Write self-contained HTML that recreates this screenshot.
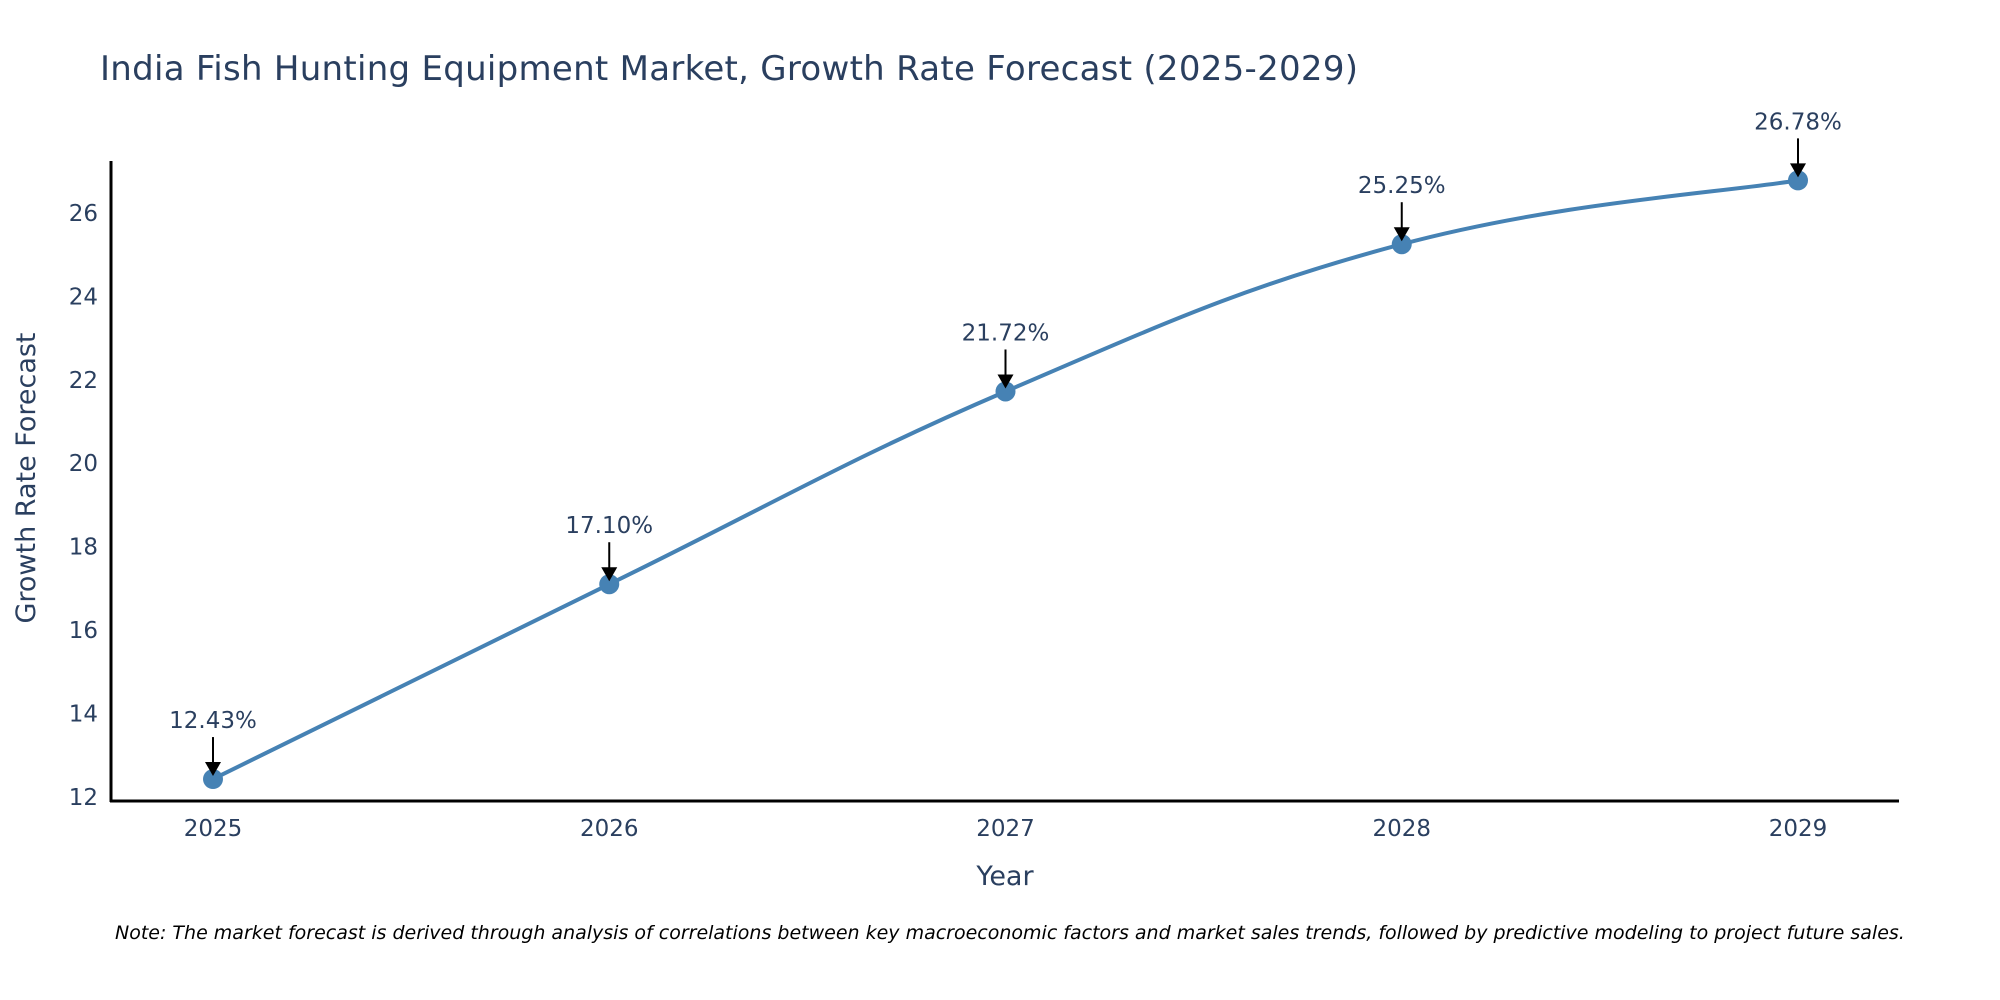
<!DOCTYPE html>
<html><head><meta charset="utf-8"><style>
body{margin:0;background:#fff;}
svg{display:block;font-family:"DejaVu Sans","Liberation Sans",sans-serif;}
</style></head><body>
<svg id="chart" width="2000" height="1000">
<text x="100" y="80" font-size="34" fill="#2a3f5f" textLength="1258">India Fish Hunting Equipment Market, Growth Rate Forecast (2025-2029)</text>
<g id="yticks"></g>
<g id="xticks"></g>
<line x1="111" y1="161" x2="111" y2="802" stroke="#000" stroke-width="3"/>
<line x1="110" y1="801" x2="1899" y2="801" stroke="#000" stroke-width="3"/>
<path id="line" fill="none" stroke="#4682b4" stroke-width="4"/>
<g id="points"></g>
<g id="annots"></g>
<text x="1005" y="885" font-size="27" fill="#2a3f5f" text-anchor="middle">Year</text>
<text transform="translate(35,478) rotate(-90)" font-size="27" fill="#2a3f5f" text-anchor="middle">Growth Rate Forecast</text>
<text x="115" y="939" font-size="19" font-style="italic" fill="#000">Note: The market forecast is derived through analysis of correlations between key macroeconomic factors and market sales trends, followed by predictive modeling to project future sales.</text>
</svg>
<script>
const years=[2025,2026,2027,2028,2029];
const rates=[12.43,17.10,21.72,25.25,26.78];
const labels=["12.43%","17.10%","21.72%","25.25%","26.78%"];
const yTicks=[12,14,16,18,20,22,24,26];
const NS="http://www.w3.org/2000/svg";
const X=v=>213+(v-2025)*396.25;
const Y=v=>797-(v-12)*41.72;
function mk(tag,attrs,parent){const e=document.createElementNS(NS,tag);for(const k in attrs)e.setAttribute(k,attrs[k]);parent.appendChild(e);return e;}
const yt=document.getElementById('yticks');
yTicks.forEach(t=>{const e=mk('text',{x:98,y:Y(t)+8,'font-size':23,fill:'#2a3f5f','text-anchor':'end'},yt);e.textContent=t;

});
const xt=document.getElementById('xticks');
years.forEach(t=>{const e=mk('text',{x:X(t),y:836,'font-size':23,fill:'#2a3f5f','text-anchor':'middle'},xt);e.textContent=t;

});
const pts=years.map((y,i)=>[X(y),Y(rates[i])]);
let d=`M${pts[0][0]},${pts[0][1]}`;
const k=0.2;
for(let i=0;i<pts.length-1;i++){const p0=pts[Math.max(0,i-1)],p1=pts[i],p2=pts[i+1],p3=pts[Math.min(pts.length-1,i+2)];
const c1=[p1[0]+(p2[0]-p0[0])*k,p1[1]+(p2[1]-p0[1])*k],c2=[p2[0]-(p3[0]-p1[0])*k,p2[1]-(p3[1]-p1[1])*k];
d+=` C${c1[0]},${c1[1]} ${c2[0]},${c2[1]} ${p2[0]},${p2[1]}`;}
document.getElementById('line').setAttribute('d',d);
const pg=document.getElementById('points'),ag=document.getElementById('annots');
pts.forEach((p,i)=>{const c=mk('circle',{cx:p[0],cy:p[1],r:10,fill:'#4682b4'},pg);


const l=mk('line',{x1:p[0],y1:p[1]-42,x2:p[0],y2:p[1]-14,stroke:'#000','stroke-width':2},ag);


const h=mk('polygon',{points:`${p[0]-8},${p[1]-17} ${p[0]+8},${p[1]-17} ${p[0]},${p[1]-3}`,fill:'#000'},ag);


const t=mk('text',{x:p[0],y:p[1]-51,'font-size':23,fill:'#2a3f5f','text-anchor':'middle'},ag);t.textContent=labels[i];

});
</script>
</body></html>
